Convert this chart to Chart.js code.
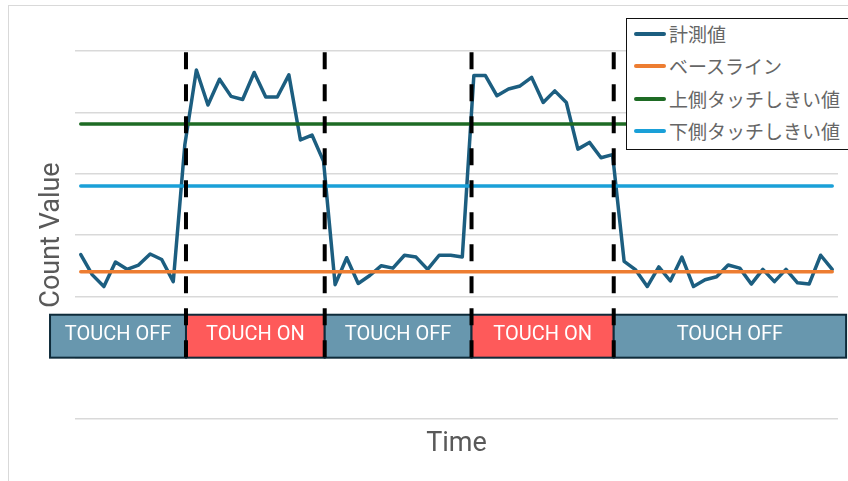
<!DOCTYPE html>
<html>
<head>
<meta charset="utf-8">
<script src="https://cdn.jsdelivr.net/npm/chart.js@4.4.1/dist/chart.umd.min.js"></script>
<style>
    html, body { margin: 0; padding: 0; background: #fff; }
    #wrap { position: relative; width: 848px; height: 481px; overflow: hidden; }
    #frame { position: absolute; left: 8px; top: 5px; width: 900px; height: 520px; border: 1px solid #d9d9d9; }
    #grafico { position: absolute; left: 0; top: 0; }
    #legenda {
        position: absolute; left: 626px; top: 18px; width: 240px; height: 130px;
        border: 1px solid #111; background: #fff;
        font-family: "Noto Sans CJK JP", sans-serif; font-size: 19px; color: #666;
    }
    .item { position: absolute; left: 0; height: 32px; width: 100%; }
    .amostra { position: absolute; left: 7px; top: 14px; width: 32px; height: 4px; border-radius: 2px; }
    .rotulo { position: absolute; left: 42px; top: 0; line-height: 32px; white-space: nowrap; }
</style>
</head>
<body>
<div id="wrap">
    <div id="frame"></div>
    <canvas id="grafico" width="848" height="481"></canvas>
    <div id="legenda"></div>
</div>
<script>
// --- dados ---
const medido = [268, 235, 216, 256, 244, 251, 269, 260, 224, 447,
                569, 512, 554, 526, 521, 565, 525, 525, 561, 455,
                463, 420, 219, 263, 221, 234, 250, 246, 267, 264,
                244, 267, 267, 264, 560, 560, 527, 538, 543, 557,
                516, 535, 516, 440, 451, 426, 431, 257, 243, 216,
                248, 225, 264, 216, 227, 232, 251, 246, 220, 244,
                224, 244, 222, 220, 267, 244];
const linhaBase = 240;      // ベースライン
const limiteSuperior = 481; // 上側タッチしきい値
const limiteInferior = 380; // 下側タッチしきい値

// faixas TOUCH ON / OFF (em unidades de tempo)
const inicioFaixa = [-2.66, 9.1, 21.1, 33.8, 46.1];
const fimFaixa = [9.1, 21.1, 33.8, 46.1, 66.2];
const rotuloFaixa = ['TOUCH OFF', 'TOUCH ON', 'TOUCH OFF', 'TOUCH ON', 'TOUCH OFF'];
const faixaMin = 100, faixaMax = 170;

// instantes de troca (linhas tracejadas)
const trocas = [9.1, 21.1, 33.8, 46.1];
const trocaTopo = 598, trocaBase = 99;

const ultimo = medido.length - 1;
const constante = v => [{ x: 0, y: v }, { x: ultimo, y: v }];

const pluginFaixas = {
    id: 'faixas',
    afterDatasetsDraw(chart) {
        const { ctx, scales: { x, y } } = chart;
        ctx.save();
        const topo = y.getPixelForValue(faixaMax);
        const base = y.getPixelForValue(faixaMin);
        rotuloFaixa.forEach((txt, i) => {
            const esq = x.getPixelForValue(inicioFaixa[i]);
            const dir = x.getPixelForValue(fimFaixa[i]);
            ctx.fillStyle = txt.endsWith('ON') ? '#fe5a5a' : '#6897ae';
            ctx.fillRect(esq, topo, dir - esq, base - topo);
            ctx.strokeStyle = '#0e2b3a';
            ctx.lineWidth = 2;
            ctx.strokeRect(esq, topo, dir - esq, base - topo);
            ctx.fillStyle = '#fff';
            ctx.font = '20px Roboto';
            ctx.textAlign = 'center';
            ctx.textBaseline = 'middle';
            ctx.fillText(txt, (esq + dir) / 2, (topo + base) / 2 - 1);
        });
        // linhas tracejadas
        ctx.strokeStyle = '#000';
        ctx.lineWidth = 4;
        ctx.setLineDash([17, 15]);
        trocas.forEach(t => {
            const px = x.getPixelForValue(t);
            ctx.beginPath();
            ctx.moveTo(px, y.getPixelForValue(trocaTopo));
            ctx.lineTo(px, y.getPixelForValue(trocaBase));
            ctx.stroke();
        });
        ctx.restore();
    }
};

const grafico = new Chart(document.getElementById('grafico'), {
    type: 'line',
    data: {
        datasets: [
            { label: '計測値', data: medido.map((v, i) => ({ x: i, y: v })), borderColor: '#1c5e80', borderWidth: 3.5, order: 4 },
            { label: 'ベースライン', data: constante(linhaBase), borderColor: '#ed7d31', borderWidth: 3.5, order: 3 },
            { label: '上側タッチしきい値', data: constante(limiteSuperior), borderColor: '#1e6b24', borderWidth: 3.5, order: 2 },
            { label: '下側タッチしきい値', data: constante(limiteInferior), borderColor: '#1aa0d8', borderWidth: 3.5, order: 1 }
        ]
    },
    options: {
        responsive: false,
        animation: false,
        layout: { padding: { top: 51, right: 10, left: 0, bottom: 0 } },
        elements: {
            point: { radius: 0 },
            line: { tension: 0, borderJoinStyle: 'round', borderCapStyle: 'round' }
        },
        plugins: { legend: { display: false }, tooltip: { enabled: false } },
        scales: {
            x: {
                type: 'linear', min: -0.5, max: 65.5,
                grid: { display: false },
                border: { display: false },
                ticks: { display: false },
                title: { display: true, text: 'Time', color: '#595959', font: { family: 'Roboto', size: 27 }, padding: { top: 0, bottom: 21 } },
                afterFit: s => { s.height = 62; }
            },
            y: {
                min: 0, max: 600,
                grid: { color: '#d9d9d9', lineWidth: 1.5, drawTicks: false },
                border: { display: false },
                ticks: { display: false, stepSize: 100 },
                title: { display: true, text: 'Count Value', color: '#595959', font: { family: 'Roboto', size: 27 }, padding: { top: 36, bottom: 0 } },
                afterFit: s => { s.width = 75; }
            }
        }
    },
    plugins: [pluginFaixas]
});

// legenda em HTML
const legenda = document.getElementById('legenda');
grafico.data.datasets.forEach((ds, i) => {
    const item = document.createElement('div');
    item.className = 'item';
    item.style.top = (-1 + i * 32.3) + 'px';
    item.innerHTML = '<span class="amostra" style="background:' + ds.borderColor + '"></span><span class="rotulo">' + ds.label + '</span>';
    legenda.appendChild(item);
});
</script>
</body>
</html>
